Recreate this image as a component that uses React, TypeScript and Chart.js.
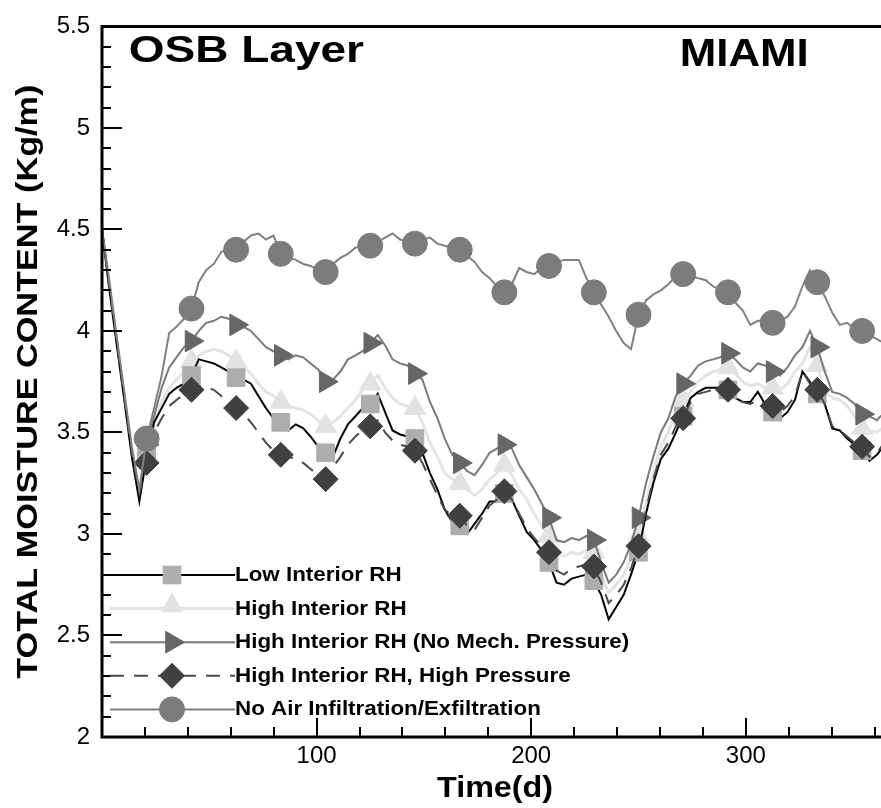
import React, { useEffect, useRef } from 'react';
import { Chart, registerables } from 'chart.js';
import { drawPoint } from 'chart.js/helpers';

Chart.register(...registerables);

// Sample times (days); a marker is drawn on every 6th sample
const DAYS = [
  0, 3.5, 6.9, 10.4, 13.9, 17.4,
  20.8, 24.3, 27.8, 31.3, 34.7, 38.2,
  41.7, 45.1, 48.6, 52.1, 55.6, 59.0,
  62.5, 66.0, 69.4, 72.9, 76.4, 79.9,
  83.3, 86.8, 90.3, 93.8, 97.2, 100.7,
  104.2, 107.6, 111.1, 114.6, 118.1, 121.5,
  125.0, 128.5, 131.9, 135.4, 138.9, 142.4,
  145.8, 149.3, 152.8, 156.3, 159.7, 163.2,
  166.7, 170.1, 173.6, 177.1, 180.6, 184.0,
  187.5, 191.0, 194.4, 197.9, 201.4, 204.9,
  208.3, 211.8, 215.3, 218.8, 222.2, 225.7,
  229.2, 232.6, 236.1, 239.6, 243.1, 246.5,
  250.0, 253.5, 256.9, 260.4, 263.9, 267.4,
  270.8, 274.3, 277.8, 281.3, 284.7, 288.2,
  291.7, 295.1, 298.6, 302.1, 305.6, 309.0,
  312.5, 316.0, 319.4, 322.9, 326.4, 329.9,
  333.3, 336.8, 340.3, 343.8, 347.2, 350.7,
  354.2, 357.6, 361.1, 364.6,
];

const LOW_RH = [
  4.50, 4.20, 3.93, 3.66, 3.38, 3.16,
  3.38, 3.55, 3.62, 3.69, 3.72, 3.74,
  3.78, 3.86, 3.85, 3.84, 3.82, 3.80,
  3.77, 3.76, 3.74, 3.68, 3.62, 3.57,
  3.55, 3.51, 3.54, 3.52, 3.48, 3.43,
  3.40, 3.38, 3.47, 3.54, 3.58, 3.62,
  3.64, 3.69, 3.60, 3.51, 3.49, 3.48,
  3.47, 3.40, 3.30, 3.22, 3.12, 3.06,
  3.04, 3.00, 3.05, 3.10, 3.16, 3.16,
  3.20, 3.17, 3.09, 3.01, 2.97, 2.92,
  2.86, 2.76, 2.75, 2.78, 2.79, 2.80,
  2.77, 2.70, 2.58, 2.64, 2.70, 2.80,
  2.91, 3.10, 3.25, 3.37, 3.42, 3.50,
  3.58, 3.67, 3.70, 3.72, 3.72, 3.72,
  3.71, 3.67, 3.65, 3.65, 3.70, 3.64,
  3.60, 3.57, 3.60, 3.66, 3.80, 3.75,
  3.69, 3.64, 3.52, 3.51, 3.47, 3.44,
  3.41, 3.36, 3.39, 3.44,
];

const HIGH_RH = [
  4.50, 4.21, 3.94, 3.67, 3.40, 3.19,
  3.42, 3.55, 3.65, 3.72, 3.76, 3.80,
  3.85, 3.88, 3.90, 3.91, 3.90, 3.88,
  3.85, 3.82, 3.79, 3.74, 3.70, 3.68,
  3.65, 3.63, 3.62, 3.61, 3.59, 3.56,
  3.53, 3.55, 3.58, 3.62, 3.66, 3.71,
  3.74, 3.78, 3.72, 3.67, 3.64, 3.63,
  3.62, 3.55, 3.45, 3.38, 3.30, 3.27,
  3.25, 3.22, 3.19, 3.22, 3.27, 3.30,
  3.34, 3.29, 3.22, 3.17, 3.10, 3.04,
  2.99, 2.91, 2.89, 2.91, 2.90, 2.92,
  2.91, 2.80, 2.71, 2.75, 2.80, 2.88,
  2.99, 3.16, 3.30, 3.43, 3.50, 3.60,
  3.66, 3.70, 3.75, 3.78, 3.80, 3.81,
  3.82, 3.79, 3.75, 3.73, 3.74, 3.72,
  3.72, 3.71, 3.74, 3.80, 3.84, 3.92,
  3.83, 3.70, 3.67, 3.66, 3.63, 3.58,
  3.52, 3.51, 3.50, 3.53,
];

const NO_MECH = [
  4.50, 4.22, 3.95, 3.68, 3.41, 3.21,
  3.44, 3.58, 3.72, 3.82, 3.87, 3.92,
  3.95, 4.00, 4.04, 4.05, 4.07, 4.06,
  4.03, 4.02, 4.00, 3.96, 3.92, 3.90,
  3.88, 3.86, 3.88, 3.87, 3.84, 3.81,
  3.75, 3.76, 3.80, 3.86, 3.88, 3.90,
  3.94, 3.98, 3.93, 3.86, 3.84, 3.83,
  3.79, 3.76, 3.65, 3.57, 3.47, 3.39,
  3.35, 3.31, 3.29, 3.34, 3.40, 3.42,
  3.44, 3.42, 3.34, 3.28, 3.22, 3.15,
  3.08, 2.97, 2.96, 2.98, 2.97, 2.99,
  2.97, 2.86, 2.76, 2.80, 2.86, 2.95,
  3.08, 3.25, 3.38, 3.50, 3.57, 3.68,
  3.74, 3.78, 3.83, 3.85, 3.86, 3.87,
  3.89, 3.86, 3.82, 3.80, 3.84, 3.83,
  3.80, 3.78, 3.82, 3.88, 3.92, 4.00,
  3.92, 3.80, 3.70, 3.69, 3.67, 3.64,
  3.59, 3.58, 3.56, 3.60,
];

const HIGH_PRESSURE = [
  4.50, 4.21, 3.94, 3.67, 3.40, 3.20,
  3.35, 3.50, 3.57, 3.63, 3.66, 3.69,
  3.71, 3.73, 3.72, 3.71, 3.68, 3.65,
  3.62, 3.59, 3.55, 3.50, 3.45, 3.41,
  3.39, 3.38, 3.37, 3.35, 3.32, 3.29,
  3.27, 3.33, 3.38, 3.44, 3.48, 3.51,
  3.53, 3.56, 3.50, 3.46, 3.44, 3.43,
  3.41, 3.35, 3.27, 3.19, 3.12, 3.09,
  3.09, 3.04, 3.02, 3.08, 3.14, 3.17,
  3.21, 3.17, 3.10, 3.03, 2.98, 2.94,
  2.91, 2.82, 2.80, 2.83, 2.84, 2.85,
  2.84, 2.76, 2.66, 2.70, 2.75, 2.83,
  2.94, 3.12, 3.27, 3.39, 3.45, 3.53,
  3.57, 3.65, 3.69, 3.70, 3.71, 3.71,
  3.71, 3.67, 3.65, 3.64, 3.66, 3.64,
  3.63, 3.60, 3.63, 3.68, 3.80, 3.74,
  3.71, 3.64, 3.53, 3.51, 3.48, 3.45,
  3.43, 3.38, 3.40, 3.45,
];

const NO_AIR = [
  4.50, 4.24, 3.97, 3.70, 3.43, 3.22,
  3.47, 3.62, 3.78, 3.99, 4.02, 4.06,
  4.11, 4.24, 4.30, 4.33, 4.39, 4.40,
  4.40, 4.44, 4.47, 4.48, 4.45, 4.47,
  4.38, 4.36, 4.35, 4.33, 4.32, 4.30,
  4.29, 4.33, 4.36, 4.38, 4.41, 4.42,
  4.42, 4.44, 4.46, 4.48, 4.45, 4.44,
  4.43, 4.45, 4.46, 4.43, 4.42, 4.41,
  4.40, 4.37, 4.34, 4.29, 4.26, 4.22,
  4.19, 4.23, 4.31, 4.29, 4.28, 4.31,
  4.32, 4.34, 4.35, 4.35, 4.35, 4.26,
  4.19, 4.13, 4.07, 4.00, 3.94, 3.91,
  4.08, 4.15, 4.18, 4.20, 4.23, 4.27,
  4.28, 4.27, 4.26, 4.25, 4.22, 4.20,
  4.19, 4.14, 4.10, 4.03, 4.05, 4.05,
  4.04, 4.05, 4.07, 4.12, 4.22, 4.30,
  4.24, 4.17, 4.09, 4.03, 4.04, 4.01,
  4.00, 3.98, 3.96, 3.94,
];

const X_MAJOR = [100, 200, 300];
const X_MINOR = [20, 40, 60, 80, 120, 140, 160, 180, 220, 240, 260, 280, 320, 340, 360];
const Y_MAJOR = [2, 2.5, 3, 3.5, 4, 4.5, 5, 5.5];
const Y_MINOR = [2.1, 2.2, 2.3, 2.4, 2.6, 2.7, 2.8, 2.9, 3.1, 3.2, 3.3, 3.4, 3.6, 3.7, 3.8, 3.9,
  4.1, 4.2, 4.3, 4.4, 4.6, 4.7, 4.8, 4.9, 5.1, 5.2, 5.3, 5.4];
const MARKER_EVERY = 6;

const TITLE_LEFT = 'OSB Layer';
const TITLE_RIGHT = 'MIAMI';
const X_TITLE = 'Time(d)';
const Y_TITLE = 'TOTAL MOISTURE CONTENT (Kg/m)';

const FONT = "'Liberation Sans', Arial, Helvetica, sans-serif";

type Style = {
  label: string;
  values: number[];
  line: string;
  width: number;
  dash: number[];
  marker: string;
  markerColor: string;
  radius: number;
  rotation: number;
  order: number;
};

const SERIES: Style[] = [
  { label: 'Low Interior RH', values: LOW_RH, line: '#000000', width: 2, dash: [], marker: 'rect', markerColor: '#adadad', radius: 12.5, rotation: 0, order: 2 },
  { label: 'High Interior RH', values: HIGH_RH, line: '#e4e4e4', width: 3, dash: [], marker: 'triangle', markerColor: '#e2e2e2', radius: 12.5, rotation: 0, order: 4 },
  { label: 'High Interior RH (No Mech. Pressure)', values: NO_MECH, line: '#7a7a7a', width: 2, dash: [], marker: 'triangle', markerColor: '#666666', radius: 12.5, rotation: 90, order: 3 },
  { label: 'High Interior RH, High Pressure', values: HIGH_PRESSURE, line: '#4a4a4a', width: 2, dash: [14, 10], marker: 'rectRot', markerColor: '#404040', radius: 12.5, rotation: 0, order: 1 },
  { label: 'No Air Infiltration/Exfiltration', values: NO_AIR, line: '#808080', width: 2, dash: [], marker: 'circle', markerColor: '#7c7c7c', radius: 12.5, rotation: 0, order: 0 },
];

function drawFitted(ctx: CanvasRenderingContext2D, text: string, x0: number, baseline: number, targetW: number) {
  const m = ctx.measureText(text);
  const glyphW = m.actualBoundingBoxLeft + m.actualBoundingBoxRight;
  const s = targetW / glyphW;
  ctx.save();
  ctx.textAlign = 'left';
  ctx.textBaseline = 'alphabetic';
  ctx.translate(x0 + m.actualBoundingBoxLeft * s, baseline);
  ctx.scale(s, 1);
  ctx.fillText(text, 0, 0);
  ctx.restore();
}

const decorPlugin = {
  id: 'decor',
  afterDatasetsDraw(chart: any) {
    const { ctx, chartArea: a, scales } = chart;
    const xs = scales.x;
    const ys = scales.y;
    ctx.save();
    ctx.strokeStyle = '#000';
    ctx.lineCap = 'butt';
    // inward ticks
    ctx.lineWidth = 2;
    ctx.beginPath();
    X_MINOR.forEach((v) => {
      const px = Math.round(xs.getPixelForValue(v));
      ctx.moveTo(px, a.bottom);
      ctx.lineTo(px, a.bottom - 10);
    });
    X_MAJOR.forEach((v) => {
      const px = Math.round(xs.getPixelForValue(v));
      ctx.moveTo(px, a.bottom);
      ctx.lineTo(px, a.bottom - 19);
    });
    Y_MINOR.forEach((v) => {
      const py = Math.round(ys.getPixelForValue(v));
      ctx.moveTo(a.left, py);
      ctx.lineTo(a.left + 9, py);
    });
    Y_MAJOR.forEach((v) => {
      const py = Math.round(ys.getPixelForValue(v));
      ctx.moveTo(a.left, py);
      ctx.lineTo(a.left + 20, py);
    });
    ctx.stroke();
    // frame (top, left, bottom)
    ctx.lineWidth = 3;
    ctx.beginPath();
    ctx.moveTo(a.right + 2, a.top);
    ctx.lineTo(a.left, a.top);
    ctx.lineTo(a.left, a.bottom);
    ctx.lineTo(a.right + 2, a.bottom);
    ctx.stroke();
    ctx.restore();
  },
  afterDraw(chart: any) {
    const { ctx, chartArea: a } = chart;
    ctx.save();
    ctx.fillStyle = '#000';
    // panel titles
    ctx.font = `bold 36px ${FONT}`;
    drawFitted(ctx, TITLE_LEFT, 130, 62, 234);
    ctx.font = `bold 38px ${FONT}`;
    drawFitted(ctx, TITLE_RIGHT, 682, 66, 125);
    // axis titles
    ctx.font = `bold 30px ${FONT}`;
    drawFitted(ctx, X_TITLE, 437, 797, 115);
    ctx.save();
    ctx.translate(37, (a.top + a.bottom) / 2 + 297);
    ctx.rotate(-Math.PI / 2);
    drawFitted(ctx, Y_TITLE, 0, 0, 593);
    ctx.restore();

    // legend
    const lx0 = 110;
    const lx1 = 235;
    const mx = 172;
    ctx.font = `bold 21px ${FONT}`;
    const longest = ctx.measureText(SERIES[2].label);
    const sc = 392 / (longest.actualBoundingBoxLeft + longest.actualBoundingBoxRight);
    SERIES.forEach((s, k) => {
      const ly = 575 + k * 33.6;
      ctx.save();
      ctx.strokeStyle = s.line;
      ctx.lineWidth = s.width;
      ctx.setLineDash(s.dash);
      ctx.beginPath();
      ctx.moveTo(lx0, ly);
      ctx.lineTo(lx1, ly);
      ctx.stroke();
      ctx.setLineDash([]);
      ctx.fillStyle = s.markerColor;
      ctx.strokeStyle = s.markerColor;
      ctx.lineWidth = 1;
      drawPoint(ctx, { pointStyle: s.marker, radius: s.radius, rotation: s.rotation, borderWidth: 1 }, mx, s.marker === 'triangle' && s.rotation === 0 ? ly - 3 : ly);
      ctx.restore();
      ctx.save();
      ctx.fillStyle = '#000';
      ctx.translate(lx1, ly + 6);
      ctx.scale(sc, 1);
      ctx.textAlign = 'left';
      ctx.textBaseline = 'alphabetic';
      ctx.fillText(s.label, 0, 0);
      ctx.restore();
    });
    ctx.restore();
  },
};

export default function App() {
  const ref = useRef<HTMLCanvasElement | null>(null);

  useEffect(() => {
    if (!ref.current) return;
    const datasets = SERIES.map((s) => ({
      label: s.label,
      data: DAYS.map((d, i) => ({ x: d, y: s.values[i] })),
      borderColor: s.line,
      borderWidth: s.width,
      borderDash: s.dash,
      backgroundColor: s.markerColor,
      pointStyle: s.marker,
      pointRotation: s.rotation,
      pointBackgroundColor: s.markerColor,
      pointBorderColor: s.markerColor,
      pointBorderWidth: 1,
      pointRadius: (c: any) => (c.dataIndex > 0 && c.dataIndex % MARKER_EVERY === 0 ? s.radius : 0),
      pointHoverRadius: 0,
      tension: 0,
      fill: false,
      order: s.order,
    }));

    const chart = new Chart(ref.current, {
      type: 'line',
      data: { datasets },
      options: {
        animation: false,
        responsive: false,
        devicePixelRatio: 1,
        events: [],
        layout: { padding: { top: 21, right: 0, left: 0, bottom: 0 } },
        plugins: {
          legend: { display: false },
          tooltip: { enabled: false },
          title: { display: false },
        },
        scales: {
          x: {
            type: 'linear',
            min: 0,
            max: 363,
            grid: { display: false, drawTicks: false },
            border: { display: false },
            afterBuildTicks: (sc: any) => {
              sc.ticks = X_MAJOR.map((v) => ({ value: v }));
            },
            afterFit: (sc: any) => {
              sc.height = 71;
            },
            ticks: {
              color: '#000',
              font: { family: FONT, size: 24 },
              padding: 5,
              maxRotation: 0,
              autoSkip: false,
              callback: (v: any) => String(v),
            },
          },
          y: {
            type: 'linear',
            min: 2,
            max: 5.5,
            grid: { display: false, drawTicks: false },
            border: { display: false },
            afterBuildTicks: (sc: any) => {
              sc.ticks = Y_MAJOR.map((v) => ({ value: v }));
            },
            afterFit: (sc: any) => {
              sc.width = 102;
            },
            ticks: {
              color: '#000',
              font: { family: FONT, size: 24 },
              padding: 12,
              autoSkip: false,
              callback: (v: any) => String(v),
            },
          },
        },
      },
      plugins: [decorPlugin],
    } as any);

    return () => chart.destroy();
  }, []);

  return (
    <div style={{ position: 'absolute', left: 0, top: 0, width: 881, height: 808, background: '#fff' }}>
      <canvas ref={ref} width={881} height={808} style={{ display: 'block', width: 881, height: 808 }} />
    </div>
  );
}
